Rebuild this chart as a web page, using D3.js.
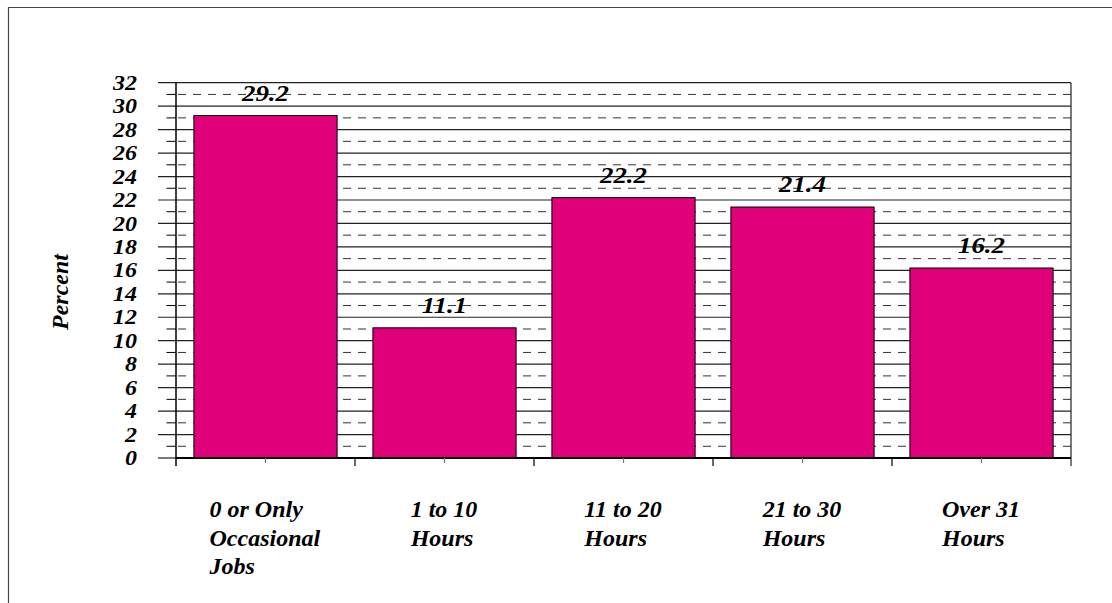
<!DOCTYPE html>
<html><head><meta charset="utf-8">
<script src="https://cdn.jsdelivr.net/npm/d3@7"></script>
<style>body{margin:0;background:#fff}svg{display:block}</style>
</head><body>
<svg id="c" width="1112" height="603"></svg>
<script>
const categories = [["0 or Only","Occasional","Jobs"],["1 to 10","Hours"],["11 to 20","Hours"],["21 to 30","Hours"],["Over 31","Hours"]];
const values = [29.2, 11.1, 22.2, 21.4, 16.2];
const yTicks = [0,2,4,6,8,10,12,14,16,18,20,22,24,26,28,30,32];
const yTitle = "Percent";

const svg = d3.select("#c");
const W = 1112, H = 603;
const L = 176, R = 1071, T = 82.7, B = 458;
const font = "Liberation Serif";
function styl(sel, size) {
  return sel.attr("font-family", font).attr("font-weight", "bold").attr("font-style", "italic").attr("font-size", size).attr("fill", "#000");
}

// outer frame
svg.append("path").attr("d", `M8.5,${H} L8.5,7.5 L${W},7.5`).attr("fill","none").attr("stroke","#444").attr("stroke-width",1.2);

const idx = d3.range(values.length);
const x = d3.scaleBand().domain(idx).range([L, R]).paddingInner(0.2).paddingOuter(0.1);
const xb = d3.scaleBand().domain(idx).range([L, R]);
const y = d3.scaleLinear().domain([0, 32]).range([B, T]);

// minor dashed lines at odd values
const odd = d3.range(1, 32, 2);
svg.append("g").selectAll("line").data(odd).join("line")
  .attr("x1", L + 2).attr("x2", R).attr("y1", d => y(d)).attr("y2", d => y(d))
  .attr("stroke", "#333").attr("stroke-width", 1).attr("stroke-dasharray", "8,7");
svg.append("g").selectAll("line").data(odd).join("line")
  .attr("x1", L - 9.5).attr("x2", L).attr("y1", d => y(d)).attr("y2", d => y(d))
  .attr("stroke", "#000").attr("stroke-width", 1);

// major solid gridlines
svg.append("g").selectAll("line").data(yTicks.filter(d => d > 0)).join("line")
  .attr("x1", L - 18).attr("x2", R).attr("y1", d => y(d)).attr("y2", d => y(d))
  .attr("stroke", "#222").attr("stroke-width", 1.2);
svg.append("line").attr("x1", L - 18).attr("x2", L).attr("y1", y(0)).attr("y2", y(0))
  .attr("stroke", "#222").attr("stroke-width", 1.2);

// bars
svg.append("g").selectAll("rect").data(values).join("rect")
  .attr("x", (d, i) => x(i)).attr("width", x.bandwidth())
  .attr("y", d => y(d)).attr("height", d => y(0) - y(d))
  .attr("fill", "#E0007A").attr("stroke", "#000").attr("stroke-width", 1);

// axes lines
svg.append("line").attr("x1", L).attr("x2", L).attr("y1", T).attr("y2", B + 8).attr("stroke", "#000").attr("stroke-width", 1.5);
svg.append("line").attr("x1", R).attr("x2", R).attr("y1", T).attr("y2", B + 8).attr("stroke", "#222").attr("stroke-width", 1.2);
svg.append("line").attr("x1", L).attr("x2", R).attr("y1", B).attr("y2", B).attr("stroke", "#000").attr("stroke-width", 2.2);

// x ticks: boundaries and centers
const bounds = idx.map(i => xb(i)).concat([R]);
svg.append("g").selectAll("line").data(bounds.slice(1, -1)).join("line")
  .attr("x1", d => d).attr("x2", d => d).attr("y1", B).attr("y2", B + 8)
  .attr("stroke", "#000").attr("stroke-width", 1.2);
svg.append("g").selectAll("line").data(idx).join("line")
  .attr("x1", i => xb(i) + xb.bandwidth()/2).attr("x2", i => xb(i) + xb.bandwidth()/2).attr("y1", B).attr("y2", B + 5)
  .attr("stroke", "#777").attr("stroke-width", 1.2);

// y tick labels
styl(svg.append("g").selectAll("text").data(yTicks).join("text"), 21)
  .attr("x", 0).attr("y", 0).attr("dy", "0.34em")
  .attr("transform", d => `translate(137,${y(d)}) scale(1.14,1)`)
  .attr("text-anchor", "end")
  .text(d => d);

// value labels
styl(svg.append("g").selectAll("text").data(values).join("text"), 24)
  .attr("x", 0).attr("y", 0)
  .attr("transform", (d, i) => `translate(${x(i) + x.bandwidth()/2},${y(d) - 15}) scale(1.12,1)`)
  .attr("text-anchor", "middle")
  .text(d => d.toFixed(1));

// category labels: left-aligned lines, block centered
const cg = svg.append("g");
categories.forEach((lines, i) => {
  const g = cg.append("g");
  const t = styl(g.append("text"), 24);
  lines.forEach((ln, k) => t.append("tspan").attr("x", 0).attr("y", 517 + k * 28.5).text(ln));
  const w = t.node().getBBox().width;
  const cx = xb(i) + xb.bandwidth()/2;
  g.attr("transform", `translate(${cx - w/2},0)`);
});

// y title
styl(svg.append("text"), 24).attr("transform", "translate(68,292) rotate(-90)")
  .attr("text-anchor", "middle")
  .text(yTitle);
</script>
</body></html>
